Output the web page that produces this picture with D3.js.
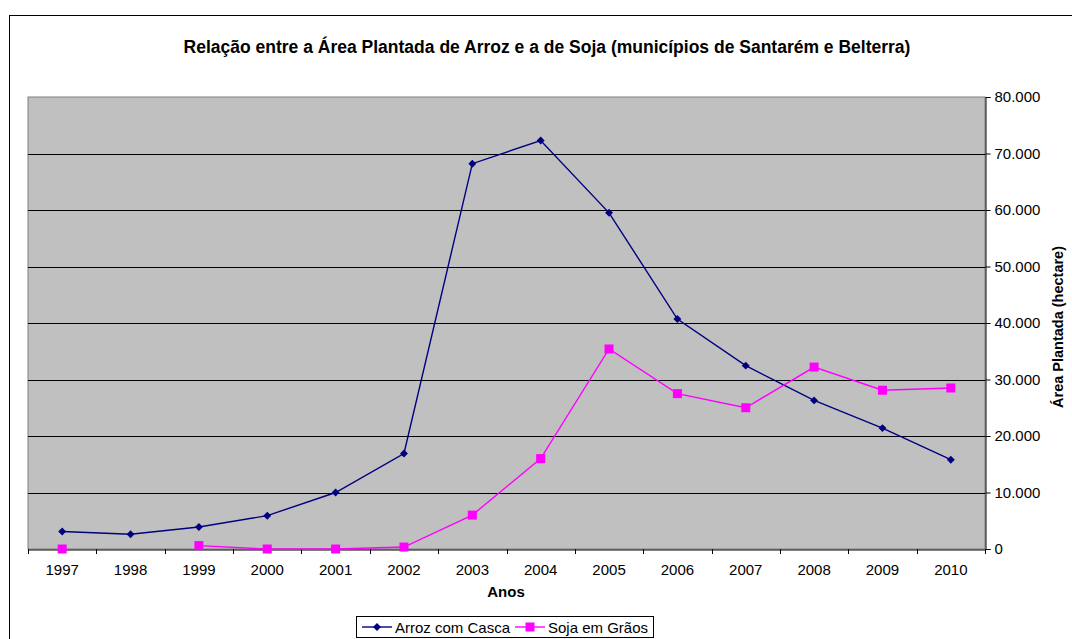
<!DOCTYPE html>
<html><head><meta charset="utf-8">
<script src="https://cdn.jsdelivr.net/npm/d3@7"></script>
<style>body{margin:0;background:#fff}svg{display:block;font-family:"Liberation Sans",Arial,sans-serif}</style>
</head><body><svg id="c" width="1072" height="639"></svg>
<script>
const years = ["1997","1998","1999","2000","2001","2002","2003","2004","2005","2006","2007","2008","2009","2010"];
const arroz = [3100, 2600, 3900, 5900, 10000, 16900, 68200, 72300, 59500, 40700, 32450, 26300, 21400, 15800];
const soja = [0, null, 600, 0, 0, 350, 6000, 16000, 35400, 27500, 25000, 32200, 28100, 28500];
const yTicks = [0, 10000, 20000, 30000, 40000, 50000, 60000, 70000, 80000];
const seriesNames = ["Arroz com Casca", "Soja em Grãos"];

const svg = d3.select("#c");
const L = 28, R = 985, T = 97, B = 549;
const x = d3.scaleBand().domain(years).range([L, R]);
const y = d3.scaleLinear().domain([0, 80000]).range([B, T]);
const fmt = v => v === 0 ? "0" : d3.format(",")(v).replace(/,/g, ".");
const FF = "Liberation Sans, Arial, sans-serif";

// outer frame
svg.append("rect").attr("x", 9.5).attr("y", 15.5).attr("width", 1100).attr("height", 700)
  .attr("fill", "#fff").attr("stroke", "#000");

svg.append("text").attr("x", 547).attr("y", 53).attr("text-anchor", "middle")
  .attr("font-size", 17.5).attr("font-weight", "bold")
  .text("Relação entre a Área Plantada de Arroz e a de Soja (municípios de Santarém e Belterra)");

// plot area
svg.append("rect").attr("x", L).attr("y", T).attr("width", R - L).attr("height", B - T)
  .attr("fill", "#c0c0c0").attr("stroke", "#808080");

// gridlines
svg.append("g").selectAll("line").data(yTicks.filter(t => t > 0 && t < 80000)).join("line")
  .attr("x1", L).attr("x2", R).attr("y1", d => Math.round(y(d)) + 0.5).attr("y2", d => Math.round(y(d)) + 0.5)
  .attr("stroke", "#000").attr("stroke-width", 1);

// y axis right
const ya = svg.append("g").attr("transform", `translate(${R + 0.5},0)`)
  .call(d3.axisRight(y).tickValues(yTicks).tickFormat(fmt).tickSize(5).tickPadding(4));
ya.selectAll("path,line").attr("stroke", "#000");
ya.selectAll("text").attr("font-size", 15).attr("fill", "#000").attr("font-family", FF);

// x axis
const xa = svg.append("g").attr("transform", `translate(0,${B + 0.5})`)
  .call(d3.axisBottom(x).tickSize(0).tickPadding(0));
xa.select("path").attr("stroke", "#000");
xa.selectAll("text").attr("font-size", 15).attr("fill", "#000").attr("font-family", FF)
  .attr("dy", null).attr("y", 25.5);
svg.append("g").selectAll("line").data(years.concat(["end"])).join("line")
  .attr("x1", (d, i) => Math.round(L + i * x.bandwidth()) + 0.5)
  .attr("x2", (d, i) => Math.round(L + i * x.bandwidth()) + 0.5)
  .attr("y1", B).attr("y2", B + 5).attr("stroke", "#000");

svg.append("text").attr("x", 506).attr("y", 597).attr("text-anchor", "middle")
  .attr("font-size", 15).attr("font-weight", "bold").text("Anos");
svg.append("text").attr("transform", "translate(1063,327) rotate(-90)").attr("text-anchor", "middle")
  .attr("font-size", 14.5).attr("font-weight", "bold").text("Área Plantada (hectare)");

const cx = d => x(d) + x.bandwidth() / 2;
const line = d3.line().defined(d => d[1] != null).x(d => cx(d[0])).y(d => y(d[1]));

const aData = years.map((yr, i) => [yr, arroz[i]]);
const sData = years.map((yr, i) => [yr, soja[i]]);

svg.append("path").datum(aData).attr("d", line).attr("fill", "none").attr("stroke", "#000080").attr("stroke-width", 1.4);
svg.append("path").datum(sData).attr("d", line).attr("fill", "none").attr("stroke", "#ff00ff").attr("stroke-width", 1.4);

const diamond = d3.symbol().type(d3.symbolDiamond2).size(40);
svg.append("g").selectAll("path").data(aData).join("path")
  .attr("transform", d => `translate(${cx(d[0])},${y(d[1])})`).attr("d", diamond).attr("fill", "#000080");
svg.append("g").selectAll("rect").data(sData.filter(d => d[1] != null)).join("rect")
  .attr("x", d => cx(d[0]) - 4.5).attr("y", d => y(d[1]) - 4.5).attr("width", 9).attr("height", 9).attr("fill", "#ff00ff");

// legend
const lg = svg.append("g");
lg.append("rect").attr("x", 356.5).attr("y", 616.5).attr("width", 297).attr("height", 21).attr("fill", "#fff").attr("stroke", "#000");
const legItems = [{n: seriesNames[0], c: "#000080", x0: 362, tx: 395}, {n: seriesNames[1], c: "#ff00ff", x0: 515, tx: 548}];
legItems.forEach((it, i) => {
  lg.append("line").attr("x1", it.x0).attr("x2", it.x0 + 30).attr("y1", 627).attr("y2", 627).attr("stroke", it.c).attr("stroke-width", 1.4);
  if (i === 0) lg.append("path").attr("transform", `translate(${it.x0 + 15},627)`).attr("d", diamond).attr("fill", it.c);
  else lg.append("rect").attr("x", it.x0 + 10.5).attr("y", 622.5).attr("width", 9).attr("height", 9).attr("fill", it.c);
  lg.append("text").attr("x", it.tx).attr("y", 632.5).attr("font-size", 15).text(it.n);
});
</script></body></html>
